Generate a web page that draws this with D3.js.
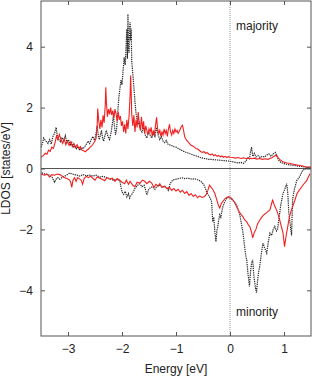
<!DOCTYPE html>
<html><head><meta charset="utf-8">
<script src="https://cdn.jsdelivr.net/npm/d3@7"></script>
<style>
html,body{margin:0;padding:0;background:#fff;}
svg{display:block;font-family:"Liberation Sans",Arial,sans-serif;}
</style></head>
<body><svg id="c" width="312" height="378"></svg>
<script>
const xTicks = [-3,-2,-1,0,1];
const yTicks = [-4,-2,0,2,4];
const xDomain = [-3.5, 1.5];
const yDomain = [-5.5, 5.5];
const xLabel = "Energy [eV]";
const yLabel = "LDOS [states/eV]";
const labelUp = "majority";
const labelDown = "minority";

// majority spin, red solid
const majRed = [[-3.50,0.37],[-3.46,0.42],[-3.42,0.50],[-3.39,0.47],[-3.36,0.60],[-3.33,0.56],[-3.30,0.70],[-3.27,0.66],[-3.24,0.85],[-3.21,1.10],[-3.19,0.92],[-3.16,1.12],[-3.13,0.95],[-3.10,0.82],[-3.07,0.98],[-3.04,0.78],[-3.01,0.90],[-2.98,0.76],[-2.95,0.88],[-2.92,0.72],[-2.89,0.82],[-2.86,0.68],[-2.83,0.78],[-2.80,0.65],[-2.77,0.72],[-2.74,0.60],[-2.71,0.58],[-2.68,0.55],[-2.65,0.60],[-2.62,0.64],[-2.59,0.70],[-2.56,0.74],[-2.53,0.82],[-2.50,0.90],[-2.48,1.00],[-2.46,1.40],[-2.45,1.97],[-2.43,1.55],[-2.41,1.30],[-2.39,1.60],[-2.37,1.35],[-2.35,1.75],[-2.33,1.50],[-2.31,2.10],[-2.30,2.67],[-2.29,2.20],[-2.27,1.70],[-2.25,1.95],[-2.23,1.78],[-2.21,2.00],[-2.19,1.75],[-2.17,1.90],[-2.15,1.65],[-2.13,1.95],[-2.11,1.80],[-2.09,1.55],[-2.07,1.85],[-2.05,1.60],[-2.03,1.72],[-2.01,1.40],[-1.99,1.55],[-1.97,1.20],[-1.95,1.45],[-1.93,1.15],[-1.91,1.60],[-1.89,1.30],[-1.87,1.70],[-1.85,2.40],[-1.84,3.05],[-1.83,2.50],[-1.82,1.80],[-1.80,1.40],[-1.78,1.75],[-1.76,1.20],[-1.74,1.60],[-1.72,1.35],[-1.70,1.85],[-1.68,1.45],[-1.66,1.25],[-1.64,1.70],[-1.62,1.30],[-1.60,1.55],[-1.58,1.15],[-1.56,1.40],[-1.54,1.25],[-1.52,1.10],[-1.50,1.30],[-1.48,1.20],[-1.46,1.35],[-1.44,1.05],[-1.42,1.25],[-1.40,1.10],[-1.38,1.40],[-1.36,1.68],[-1.34,1.30],[-1.32,1.15],[-1.30,1.25],[-1.28,1.05],[-1.26,1.20],[-1.24,1.10],[-1.22,1.30],[-1.20,1.15],[-1.18,1.25],[-1.16,1.05],[-1.14,1.30],[-1.12,1.45],[-1.10,1.20],[-1.08,1.10],[-1.06,1.25],[-1.04,1.15],[-1.02,1.30],[-1.00,1.20],[-0.98,1.25],[-0.96,1.15],[-0.94,1.22],[-0.92,1.30],[-0.90,1.38],[-0.88,1.42],[-0.86,1.25],[-0.84,1.05],[-0.82,0.98],[-0.80,0.92],[-0.78,0.88],[-0.75,0.82],[-0.72,0.76],[-0.69,0.74],[-0.66,0.70],[-0.63,0.66],[-0.60,0.64],[-0.57,0.60],[-0.54,0.55],[-0.51,0.53],[-0.48,0.55],[-0.45,0.50],[-0.42,0.52],[-0.39,0.47],[-0.36,0.45],[-0.33,0.48],[-0.30,0.42],[-0.27,0.45],[-0.24,0.40],[-0.21,0.43],[-0.18,0.38],[-0.15,0.41],[-0.12,0.37],[-0.09,0.40],[-0.06,0.36],[-0.03,0.39],[0.00,0.37],[0.05,0.36],[0.10,0.34],[0.15,0.36],[0.20,0.33],[0.25,0.35],[0.30,0.32],[0.35,0.34],[0.40,0.32],[0.45,0.34],[0.50,0.31],[0.55,0.33],[0.60,0.30],[0.65,0.32],[0.70,0.30],[0.74,0.33],[0.78,0.36],[0.82,0.40],[0.86,0.44],[0.89,0.36],[0.92,0.30],[0.95,0.26],[0.98,0.22],[1.02,0.20],[1.06,0.18],[1.10,0.17],[1.15,0.15],[1.20,0.13],[1.25,0.11],[1.30,0.10],[1.35,0.08],[1.40,0.06],[1.45,0.05],[1.50,0.04]];

// majority spin, black dotted
const majBlack = [[-3.50,0.70],[-3.47,0.85],[-3.45,1.00],[-3.42,0.92],[-3.40,0.88],[-3.37,0.82],[-3.34,0.95],[-3.31,0.80],[-3.28,1.05],[-3.25,1.15],[-3.22,1.35],[-3.20,1.10],[-3.17,0.95],[-3.14,0.88],[-3.11,1.02],[-3.08,0.90],[-3.05,1.08],[-3.02,0.85],[-2.99,0.95],[-2.96,0.75],[-2.93,0.85],[-2.90,0.68],[-2.87,0.75],[-2.84,0.65],[-2.81,0.72],[-2.78,0.60],[-2.75,0.68],[-2.72,0.65],[-2.69,0.72],[-2.66,0.80],[-2.63,0.90],[-2.60,0.82],[-2.57,0.95],[-2.54,1.05],[-2.51,0.92],[-2.48,1.15],[-2.46,1.40],[-2.44,1.10],[-2.42,0.95],[-2.40,1.10],[-2.38,1.25],[-2.36,1.00],[-2.34,0.90],[-2.32,1.05],[-2.29,1.25],[-2.26,1.05],[-2.23,0.95],[-2.20,1.20],[-2.18,1.45],[-2.16,1.74],[-2.14,1.40],[-2.12,1.10],[-2.10,1.30],[-2.08,1.80],[-2.06,2.30],[-2.04,2.60],[-2.02,2.90],[-2.00,2.75],[-1.98,3.20],[-1.96,3.65],[-1.94,3.40],[-1.92,4.20],[-1.91,4.58],[-1.90,3.60],[-1.89,5.07],[-1.88,4.00],[-1.87,3.80],[-1.86,4.60],[-1.85,4.80],[-1.84,4.20],[-1.83,4.60],[-1.82,3.55],[-1.80,3.10],[-1.78,2.67],[-1.76,2.20],[-1.74,1.80],[-1.72,1.60],[-1.70,1.45],[-1.68,1.55],[-1.66,1.30],[-1.63,1.20],[-1.60,1.35],[-1.57,1.10],[-1.54,1.00],[-1.51,1.20],[-1.48,1.10],[-1.45,1.00],[-1.42,1.15],[-1.39,1.05],[-1.36,1.35],[-1.33,1.10],[-1.30,0.95],[-1.27,1.05],[-1.24,0.90],[-1.21,0.85],[-1.18,0.92],[-1.15,0.80],[-1.12,0.78],[-1.08,0.75],[-1.04,0.72],[-1.00,0.70],[-0.96,0.66],[-0.92,0.62],[-0.88,0.58],[-0.84,0.55],[-0.80,0.52],[-0.76,0.50],[-0.72,0.47],[-0.68,0.44],[-0.64,0.42],[-0.60,0.40],[-0.56,0.37],[-0.52,0.35],[-0.48,0.33],[-0.44,0.32],[-0.40,0.30],[-0.36,0.30],[-0.30,0.29],[-0.24,0.28],[-0.18,0.27],[-0.12,0.26],[-0.06,0.25],[0.00,0.24],[0.05,0.22],[0.10,0.20],[0.15,0.18],[0.20,0.20],[0.25,0.17],[0.30,0.25],[0.33,0.37],[0.36,0.30],[0.38,0.55],[0.40,0.70],[0.42,0.40],[0.45,0.50],[0.48,0.38],[0.52,0.42],[0.56,0.36],[0.60,0.40],[0.64,0.38],[0.68,0.44],[0.72,0.48],[0.76,0.40],[0.80,0.48],[0.84,0.53],[0.87,0.40],[0.90,0.28],[0.94,0.20],[0.98,0.17],[1.04,0.14],[1.10,0.12],[1.18,0.10],[1.26,0.08],[1.34,0.06],[1.42,0.04],[1.50,0.02]];

// minority spin, red solid
const minRed = [[-3.52,-0.15],[-3.48,-0.20],[-3.43,-0.22],[-3.39,-0.18],[-3.34,-0.28],[-3.30,-0.20],[-3.25,-0.22],[-3.20,-0.18],[-3.15,-0.20],[-3.10,-0.26],[-3.06,-0.30],[-3.01,-0.34],[-2.97,-0.38],[-2.95,-0.45],[-2.93,-0.62],[-2.91,-0.40],[-2.88,-0.30],[-2.85,-0.42],[-2.82,-0.30],[-2.78,-0.35],[-2.75,-0.40],[-2.73,-0.52],[-2.70,-0.32],[-2.66,-0.26],[-2.62,-0.30],[-2.58,-0.25],[-2.54,-0.32],[-2.50,-0.38],[-2.46,-0.28],[-2.41,-0.32],[-2.36,-0.36],[-2.32,-0.40],[-2.28,-0.30],[-2.23,-0.35],[-2.18,-0.32],[-2.13,-0.42],[-2.09,-0.33],[-2.04,-0.38],[-2.00,-0.45],[-1.95,-0.50],[-1.92,-0.38],[-1.88,-0.52],[-1.85,-0.42],[-1.80,-0.55],[-1.76,-0.60],[-1.72,-0.45],[-1.67,-0.48],[-1.62,-0.38],[-1.58,-0.42],[-1.54,-0.50],[-1.49,-0.42],[-1.45,-0.48],[-1.41,-0.62],[-1.37,-0.52],[-1.33,-0.58],[-1.30,-0.50],[-1.26,-0.62],[-1.21,-0.58],[-1.17,-0.66],[-1.12,-0.62],[-1.08,-0.72],[-1.04,-0.66],[-1.00,-0.74],[-0.96,-0.68],[-0.92,-0.78],[-0.88,-0.72],[-0.84,-0.82],[-0.80,-0.76],[-0.76,-0.88],[-0.72,-0.82],[-0.68,-0.92],[-0.64,-0.86],[-0.60,-0.96],[-0.56,-0.90],[-0.52,-0.95],[-0.47,-0.92],[-0.44,-0.85],[-0.41,-0.72],[-0.38,-0.55],[-0.35,-0.62],[-0.32,-0.68],[-0.28,-0.82],[-0.25,-1.00],[-0.22,-1.18],[-0.19,-1.30],[-0.16,-1.15],[-0.12,-1.05],[-0.09,-0.98],[-0.06,-0.95],[-0.03,-0.92],[0.00,-0.94],[0.03,-0.98],[0.06,-1.05],[0.09,-1.12],[0.12,-1.25],[0.15,-1.35],[0.18,-1.45],[0.21,-1.52],[0.24,-1.58],[0.27,-1.68],[0.31,-1.75],[0.34,-1.85],[0.37,-1.92],[0.40,-2.10],[0.42,-2.28],[0.45,-2.10],[0.48,-2.00],[0.51,-1.82],[0.55,-1.70],[0.58,-1.62],[0.61,-1.55],[0.64,-1.50],[0.68,-1.45],[0.71,-1.40],[0.74,-1.36],[0.77,-1.15],[0.79,-1.04],[0.82,-1.20],[0.86,-1.35],[0.89,-1.50],[0.92,-1.69],[0.95,-1.90],[0.98,-2.10],[1.01,-2.57],[1.04,-2.20],[1.07,-1.90],[1.10,-1.60],[1.13,-1.40],[1.16,-1.25],[1.20,-1.05],[1.24,-0.83],[1.28,-0.72],[1.33,-0.60],[1.37,-0.50],[1.42,-0.40],[1.45,-0.28],[1.48,-0.17]];

// minority spin, black dotted
const minBlack = [[-3.52,-0.12],[-3.47,-0.15],[-3.43,-0.18],[-3.38,-0.20],[-3.34,-0.22],[-3.29,-0.30],[-3.25,-0.45],[-3.22,-0.35],[-3.19,-0.30],[-3.15,-0.35],[-3.10,-0.28],[-3.06,-0.25],[-3.01,-0.20],[-2.97,-0.15],[-2.92,-0.18],[-2.88,-0.20],[-2.83,-0.22],[-2.78,-0.25],[-2.72,-0.20],[-2.66,-0.24],[-2.60,-0.22],[-2.54,-0.25],[-2.48,-0.22],[-2.41,-0.28],[-2.35,-0.26],[-2.28,-0.30],[-2.22,-0.34],[-2.17,-0.38],[-2.10,-0.36],[-2.04,-0.40],[-2.02,-0.60],[-2.00,-0.77],[-1.97,-0.85],[-1.94,-0.75],[-1.91,-0.93],[-1.88,-0.82],[-1.86,-0.97],[-1.83,-0.88],[-1.80,-0.80],[-1.76,-0.65],[-1.71,-0.55],[-1.67,-0.50],[-1.63,-0.60],[-1.59,-0.55],[-1.56,-0.72],[-1.54,-0.87],[-1.51,-0.70],[-1.47,-0.62],[-1.43,-0.60],[-1.39,-0.68],[-1.35,-0.58],[-1.30,-0.55],[-1.26,-0.62],[-1.22,-0.58],[-1.17,-0.65],[-1.14,-0.72],[-1.11,-0.50],[-1.06,-0.38],[-1.02,-0.36],[-0.97,-0.34],[-0.93,-0.32],[-0.88,-0.31],[-0.84,-0.33],[-0.79,-0.32],[-0.75,-0.33],[-0.70,-0.35],[-0.65,-0.34],[-0.60,-0.37],[-0.56,-0.40],[-0.52,-0.45],[-0.48,-0.55],[-0.45,-0.68],[-0.43,-0.78],[-0.39,-0.90],[-0.36,-1.00],[-0.34,-1.10],[-0.32,-1.75],[-0.30,-1.60],[-0.28,-2.08],[-0.26,-2.40],[-0.24,-2.00],[-0.23,-1.95],[-0.21,-1.70],[-0.19,-1.52],[-0.17,-1.60],[-0.14,-1.30],[-0.10,-1.10],[-0.06,-0.97],[-0.02,-0.95],[0.03,-1.00],[0.07,-1.08],[0.12,-1.20],[0.15,-1.35],[0.18,-1.50],[0.21,-1.80],[0.24,-2.10],[0.27,-2.55],[0.29,-2.85],[0.31,-3.00],[0.33,-3.40],[0.36,-3.87],[0.38,-3.40],[0.40,-3.10],[0.42,-3.00],[0.44,-3.50],[0.47,-3.90],[0.49,-4.08],[0.51,-3.70],[0.53,-3.40],[0.55,-3.22],[0.58,-2.80],[0.61,-2.45],[0.64,-2.60],[0.68,-2.78],[0.71,-2.40],[0.74,-2.12],[0.77,-2.20],[0.80,-2.00],[0.83,-1.90],[0.86,-2.05],[0.88,-2.00],[0.91,-1.60],[0.94,-1.20],[0.98,-0.83],[1.01,-0.70],[1.05,-0.50],[1.07,-0.80],[1.09,-1.47],[1.12,-1.90],[1.14,-2.20],[1.16,-1.00],[1.19,-0.70],[1.22,-0.50],[1.24,-0.38],[1.28,-0.30],[1.32,-0.15],[1.35,-0.05],[1.40,-0.02],[1.44,0.02],[1.48,0.05]];

const svg = d3.select("#c");
const L = 41, R = 311, T = 1, B = 336;
const x = d3.scaleLinear().domain(xDomain).range([L, R]);
const y = d3.scaleLinear().domain(yDomain).range([B, T]);
const axisCol = "#555";
const textCol = "#222";
const fs = "12px";

svg.append("defs").append("clipPath").attr("id","clip")
  .append("rect").attr("x",L).attr("y",T).attr("width",R-L).attr("height",B-T);

// zero lines
svg.append("line").attr("x1",L).attr("x2",R).attr("y1",y(0)).attr("y2",y(0))
  .attr("stroke",axisCol).attr("stroke-width",1);
svg.append("line").attr("x1",x(0)).attr("x2",x(0)).attr("y1",T).attr("y2",B)
  .attr("stroke","#777").attr("stroke-width",0.8).attr("stroke-dasharray","1,1");

const line = d3.line().x(d=>x(d[0])).y(d=>y(d[1]));
const g = svg.append("g").attr("clip-path","url(#clip)");
function drawBlack(data){
  g.append("path").datum(data).attr("d",line).attr("fill","none")
    .attr("stroke","#2a2a2a").attr("stroke-width",1.2).attr("stroke-dasharray","1.3,0.9");
}
function drawRed(data){
  g.append("path").datum(data).attr("d",line).attr("fill","none")
    .attr("stroke","#f02020").attr("stroke-width",1.1);
}
drawBlack(majBlack); drawBlack(minBlack);
drawRed(majRed); drawRed(minRed);

// axes
function styleAxis(sel){
  sel.select(".domain").remove();
  sel.selectAll(".tick line").attr("stroke",axisCol);
  sel.selectAll(".tick text").attr("fill",textCol).style("font-size",fs)
    .style("font-family","'Liberation Sans',Arial,sans-serif");
}
svg.append("g").attr("transform",`translate(0,${B})`)
  .call(d3.axisBottom(x).tickValues(xTicks).tickSize(-4).tickPadding(8).tickFormat(d3.format("d")))
  .call(styleAxis);
svg.append("g").attr("transform",`translate(0,${T})`)
  .call(d3.axisTop(x).tickValues(xTicks).tickSize(-4).tickFormat(""))
  .call(styleAxis);
svg.append("g").attr("transform",`translate(${L},0)`)
  .call(d3.axisLeft(y).tickValues(yTicks).tickSize(-4).tickPadding(8).tickFormat(d3.format("d")))
  .call(styleAxis);
svg.append("g").attr("transform",`translate(${R},0)`)
  .call(d3.axisRight(y).tickValues(yTicks).tickSize(-4).tickFormat(""))
  .call(styleAxis);

// frame
svg.append("rect").attr("x",L).attr("y",T).attr("width",R-L).attr("height",B-T)
  .attr("fill","none").attr("stroke",axisCol).attr("stroke-width",1);

// labels
svg.append("text").attr("x",(L+R)/2).attr("y",373).attr("text-anchor","middle")
  .attr("fill",textCol).style("font-size",fs).text(xLabel);
svg.append("text").attr("transform",`translate(10,${(T+B)/2}) rotate(-90)`)
  .attr("text-anchor","middle").attr("fill",textCol).style("font-size",fs).text(yLabel);
svg.append("text").attr("x",x(0)+6).attr("y",30).attr("fill",textCol)
  .style("font-size",fs).text(labelUp);
svg.append("text").attr("x",x(0)+6).attr("y",316).attr("fill",textCol)
  .style("font-size",fs).text(labelDown);
</script></body></html>
